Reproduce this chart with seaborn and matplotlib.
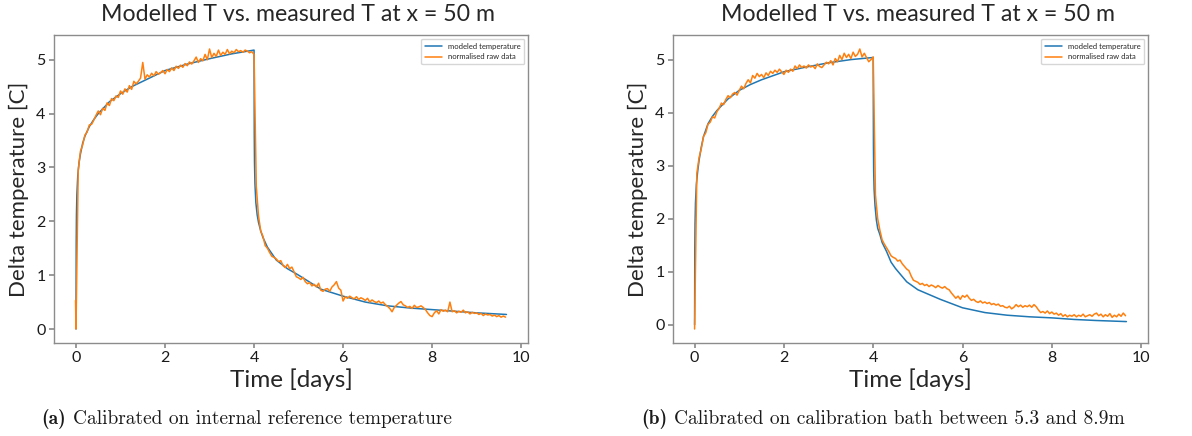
import numpy as np
import pandas as pd
import matplotlib
matplotlib.use("Agg")
import matplotlib.pyplot as plt
import seaborn as sns

# ---------------- data ----------------
title_text = "Modelled T vs. measured T at x = 50 m"
xlabel_text = "Time [days]"
ylabel_text = "Delta temperature [C]"
legend_labels = ["modeled temperature", "normalised raw data"]
caption_tags = ["(a)", "(b)"]
caption_texts = ["Calibrated on internal reference temperature",
                 "Calibrated on calibration bath between 5.3 and 8.9m"]
x_ticks = [0, 2, 4, 6, 8, 10]
y_ticks = [0, 1, 2, 3, 4, 5]

# modelled curves (days, deg C)
t_model = [0, 0.005, 0.01, 0.02, 0.04, 0.07, 0.1, 0.15, 0.2, 0.3, 0.4, 0.5,
           0.75, 1.0, 1.25, 1.5, 2.0, 2.5, 3.0, 3.5, 4.0,
           4.005, 4.01, 4.02, 4.04, 4.07, 4.1, 4.15, 4.2, 4.3, 4.4, 4.5,
           4.75, 5.0, 5.5, 6.0, 6.5, 7.0, 7.5, 8.0, 8.5, 9.0, 9.67]
model_a = [0, 1.6, 2.1, 2.5, 2.85, 3.1, 3.25, 3.45, 3.58, 3.76, 3.89, 4.0,
           4.22, 4.37, 4.5, 4.6, 4.80, 4.92, 5.02, 5.11, 5.18,
           3.6, 3.1, 2.7, 2.35, 2.12, 1.98, 1.82, 1.70, 1.52, 1.40, 1.28,
           1.12, 1.0, 0.74, 0.61, 0.50, 0.43, 0.39, 0.36, 0.33, 0.30, 0.27]
model_b = [0, 1.4, 1.9, 2.3, 2.65, 2.9, 3.1, 3.35, 3.55, 3.79, 3.93, 4.04,
           4.26, 4.42, 4.53, 4.62, 4.77, 4.86, 4.94, 5.0, 5.04,
           3.4, 2.9, 2.55, 2.25, 1.98, 1.82, 1.70, 1.55, 1.38, 1.18, 1.06,
           0.81, 0.66, 0.48, 0.32, 0.23, 0.18, 0.15, 0.13, 0.10, 0.08, 0.06]

# raw measurements, sampled every 0.05 day from t = 0 to 9.65
t_raw = np.round(np.arange(0, 9.66, 0.05), 2)
raw_a_lead_t = [-0.01]
raw_a_lead_v = [0.53]
raw_a = [
    0.00, 2.95, 3.30, 3.42, 3.60, 3.66, 3.79, 3.80, 3.88, 3.97,
    4.05, 3.98, 4.10, 4.06, 4.20, 4.15, 4.28, 4.24, 4.33, 4.30,
    4.42, 4.36, 4.46, 4.40, 4.52, 4.45, 4.60, 4.55, 4.60, 4.66,
    4.95, 4.64, 4.72, 4.68, 4.75, 4.70, 4.78, 4.73, 4.76, 4.80,
    4.74, 4.82, 4.78, 4.85, 4.80, 4.88, 4.84, 4.90, 4.86, 4.93,
    4.89, 4.96, 4.92, 4.98, 5.05, 4.95, 5.02, 4.98, 5.10, 5.00,
    5.20, 5.04, 5.12, 5.06, 5.18, 5.08, 5.14, 5.10, 5.19, 5.11,
    5.16, 5.13, 5.19, 5.15, 5.17, 5.14, 5.18, 5.16, 5.13, 5.15,
    5.10, 2.65, 2.10, 1.82, 1.72, 1.55, 1.50, 1.42, 1.35, 1.33,
    1.30, 1.25, 1.27, 1.18, 1.14, 1.20, 1.12, 1.15, 1.06, 0.97,
    0.95, 0.92, 0.96, 0.88, 0.84, 0.86, 0.80, 0.83, 0.78, 0.85,
    0.72, 0.70, 0.74, 0.75, 0.70, 0.78, 0.82, 0.88, 0.76, 0.72,
    0.52, 0.60, 0.57, 0.61, 0.58, 0.56, 0.60, 0.55, 0.58, 0.56,
    0.53, 0.57, 0.50, 0.54, 0.51, 0.49, 0.52, 0.48, 0.50, 0.45,
    0.42, 0.38, 0.32, 0.40, 0.44, 0.48, 0.51, 0.45, 0.43, 0.40,
    0.42, 0.38, 0.44, 0.40, 0.41, 0.43, 0.40, 0.36, 0.30, 0.25,
    0.23, 0.30, 0.34, 0.28, 0.36, 0.33, 0.35, 0.32, 0.50, 0.32,
    0.34, 0.30, 0.33, 0.31, 0.35, 0.30, 0.32, 0.28, 0.31, 0.29,
    0.30, 0.27, 0.29, 0.25, 0.28, 0.26, 0.27, 0.24, 0.26, 0.23,
    0.25, 0.22, 0.24, 0.22]
raw_b = [
    -0.08, 2.85, 3.15, 3.32, 3.55, 3.62, 3.78, 3.82, 3.92, 3.90,
    4.02, 4.08, 4.18, 4.15, 4.25, 4.32, 4.28, 4.35, 4.38, 4.33,
    4.42, 4.50, 4.45, 4.55, 4.62, 4.56, 4.70, 4.65, 4.74, 4.68,
    4.72, 4.66, 4.75, 4.70, 4.78, 4.74, 4.80, 4.76, 4.82, 4.77,
    4.72, 4.80, 4.76, 4.82, 4.78, 4.88, 4.83, 4.90, 4.85, 4.88,
    4.84, 4.90, 4.86, 4.88, 4.83, 4.92, 4.87, 4.85, 4.90, 4.95,
    4.92, 4.98, 4.90, 5.02, 4.96, 5.08, 5.00, 5.12, 5.04, 5.10,
    5.02, 5.14, 5.06, 5.10, 5.20, 5.05, 5.12, 5.04, 4.96, 5.00,
    5.05, 2.45, 2.00, 1.78, 1.60, 1.52, 1.45, 1.38, 1.30, 1.27,
    1.25, 1.20, 1.22, 1.15, 1.10, 1.05, 1.02, 0.92, 0.84, 0.82,
    0.80, 0.76, 0.78, 0.74, 0.76, 0.72, 0.75, 0.73, 0.70, 0.74,
    0.71, 0.69, 0.72, 0.68, 0.66, 0.60, 0.55, 0.50, 0.54, 0.48,
    0.55, 0.52, 0.56, 0.50, 0.46, 0.48, 0.44, 0.42, 0.45, 0.41,
    0.43, 0.40, 0.42, 0.38, 0.40, 0.37, 0.39, 0.35, 0.36, 0.33,
    0.32, 0.35, 0.30, 0.33, 0.38, 0.34, 0.37, 0.33, 0.36, 0.34,
    0.37, 0.33, 0.38, 0.34, 0.28, 0.23, 0.25, 0.22, 0.26, 0.21,
    0.24, 0.20, 0.22, 0.18, 0.21, 0.16, 0.19, 0.15, 0.18, 0.16,
    0.19, 0.15, 0.18, 0.16, 0.20, 0.15, 0.17, 0.19, 0.16, 0.20,
    0.22, 0.17, 0.20, 0.15, 0.19, 0.16, 0.21, 0.14, 0.18, 0.15,
    0.20, 0.16, 0.22, 0.17]

# ---------------- style ----------------
sns.set_theme(style="ticks")
plt.rcParams["font.family"] = ["Lato", "DejaVu Sans"]
plt.rcParams.update({
    "axes.edgecolor": "#8c8c8c",
    "axes.linewidth": 1.0,
    "xtick.color": "#8c8c8c",
    "ytick.color": "#8c8c8c",
    "xtick.labelcolor": "#1a1a1a",
    "ytick.labelcolor": "#1a1a1a",
    "xtick.major.size": 3.5,
    "ytick.major.size": 3.5,
    "xtick.major.pad": 2.5,
    "ytick.major.pad": 2.5,
})

blue = "#1f77b4"
orange = "#ff7f0e"

fig = plt.figure(figsize=(11.92, 4.36), dpi=100)
W, H = 1192, 436
ax_a = fig.add_axes([54 / W, 1 - 343 / H, 474 / W, 308 / H])
ax_b = fig.add_axes([673 / W, 1 - 343 / H, 475 / W, 308 / H])

panels = [
    (ax_a, model_a, np.concatenate([raw_a_lead_t, t_raw]),
     np.concatenate([raw_a_lead_v, raw_a])),
    (ax_b, model_b, t_raw, np.array(raw_b)),
]

for ax, model, traw, vraw in panels:
    dm = pd.DataFrame({"t": t_model, "T": model})
    dr = pd.DataFrame({"t": traw, "T": vraw})
    sns.lineplot(data=dm, x="t", y="T", ax=ax, color=blue, lw=1.1,
                 estimator=None, sort=False, label=legend_labels[0])
    sns.lineplot(data=dr, x="t", y="T", ax=ax, color=orange, lw=1.1,
                 estimator=None, sort=False, label=legend_labels[1])
    ax.set_xticks(x_ticks)
    ax.set_yticks(y_ticks)
    ax.tick_params(labelsize=11.5)
    ax.set_title(title_text, fontsize=16.7, x=0.515, pad=10)
    ax.set_xlabel(xlabel_text, fontsize=17.5, labelpad=2)
    ax.set_ylabel(ylabel_text, fontsize=16, labelpad=5)
    leg = ax.legend(loc="upper right", fontsize=5.5, frameon=True,
                    fancybox=True, framealpha=0.8, edgecolor="#cccccc",
                    borderpad=0.5, handlelength=2.2)

# captions
fig.canvas.draw()
renderer = fig.canvas.get_renderer()
cap_x = [41, 641]
for tag, txt, x0 in zip(caption_tags, caption_texts, cap_x):
    t1 = fig.text(x0 / W, 1 - 424 / H, tag, fontsize=14, family="cmb10",
                  ha="left", va="baseline", color="#1a1a1a")
    bb = t1.get_window_extent(renderer)
    fig.text((bb.x1 + 7) / W, 1 - 424 / H, txt, fontsize=14, family="cmr10",
             ha="left", va="baseline", color="#1a1a1a")

fig.savefig("out.png", dpi=100)
